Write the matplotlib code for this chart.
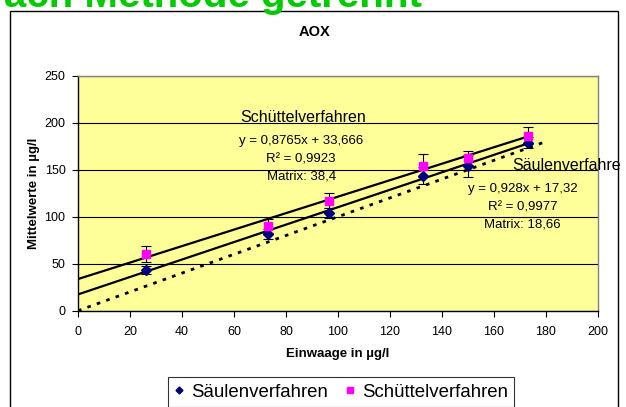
import matplotlib.pyplot as plt
from matplotlib.patches import Rectangle
from matplotlib.transforms import Bbox, TransformedBbox
import numpy as np

plt.rcParams["font.family"] = ["Liberation Sans", "DejaVu Sans"]

# Einwaage (µg/l) und Mittelwerte je Verfahren
einwaage = [26.2, 73.2, 96.5, 132.8, 150.1, 172.9]
saeulen = [43.3, 81.6, 103.6, 143.6, 154.3, 178.7]
saeulen_err = [4.3, 5.6, 5.5, 9.0, 11.7, 6.0]
schuettel = [60.5, 90.1, 117.0, 154.3, 162.8, 186.2]
schuettel_err = [8.5, 7.0, 8.0, 12.5, 7.5, 9.0]

# lineare Regressionen (Steigung, Achsenabschnitt)
fit_saeulen = (0.928, 17.32)
fit_schuettel = (0.8765, 33.666)
# Wiederfindung 100 %
ideal_x = [0, 180]
ideal_y = [0, 180]

W, H = 626, 407
fig = plt.figure(figsize=(W / 100, H / 100), dpi=100)


def fx(px):
    return px / W


def fy(py):
    return 1 - py / H


# Rahmen des Diagramms
fig.patches.append(Rectangle((fx(10), fy(440)), fx(618) - fx(10), fy(11) - fy(440),
                             transform=fig.transFigure, fill=False,
                             edgecolor="black", linewidth=1.0))

# angeschnittene Überschrift
fig.text(fx(4), fy(7), "ach Methode getrennt", color="#00cc00", fontsize=29,
         fontweight="bold", ha="left", va="baseline")

ax = fig.add_axes([fx(78), fy(310.7), fx(598) - fx(78), fy(75.7) - fy(310.7)])
ax.set_facecolor("#ffff99")
ax.set_xlim(0, 200)
ax.set_ylim(0, 250)
ax.set_xticks(np.arange(0, 201, 20))
ax.set_yticks(np.arange(0, 251, 50))
ax.tick_params(direction="out", length=4, width=0.8, labelsize=9, pad=5)
ax.tick_params(axis="x", pad=7)
for s in ["top", "right"]:
    ax.spines[s].set_color("#808080")
    ax.spines[s].set_linewidth(1.0)
for s in ["left", "bottom"]:
    ax.spines[s].set_color("black")
    ax.spines[s].set_linewidth(1.0)
ax.yaxis.grid(True, color="black", linewidth=0.8)
ax.set_axisbelow(True)

xs = np.array([0, max(einwaage)])
ax.plot(xs, fit_schuettel[0] * xs + fit_schuettel[1], color="black", lw=1.6, zorder=2)
ax.plot(xs, fit_saeulen[0] * xs + fit_saeulen[1], color="black", lw=1.6, zorder=2)
ax.plot(ideal_x, ideal_y, color="black", lw=2.0, linestyle=(0, (1.3, 2.3)), zorder=2)

ax.errorbar(einwaage, schuettel, yerr=schuettel_err, fmt="none", ecolor="black",
            elinewidth=0.8, capsize=3.5, capthick=0.8, zorder=3)
ax.errorbar(einwaage, saeulen, yerr=saeulen_err, fmt="none", ecolor="black",
            elinewidth=0.8, capsize=3.5, capthick=0.8, zorder=3)
ax.plot(einwaage, saeulen, "D", color="#000080", ms=5, ls="none",
        label="Säulenverfahren", zorder=4)
ax.plot(einwaage, schuettel, "s", color="#ff00ff", ms=5.5, ls="none",
        label="Schüttelverfahren", zorder=4)

ax.set_xlabel("Einwaage in µg/l", fontsize=9.5, fontweight="bold", labelpad=7)
ax.set_ylabel("Mittelwerte in µg/l", fontsize=9.5, fontweight="bold", labelpad=3)
fig.text(fx(315), fy(32.5), "AOX", fontsize=10.5, fontweight="bold",
         ha="center", va="center")

# Beschriftung der Regressionen
ax.text(62.6, 206, "Schüttelverfahren", fontsize=11.5, ha="left", va="center")
ax.text(85.8, 180.5, "y = 0,8765x + 33,666", fontsize=9.5, ha="center", va="center")
ax.text(85.8, 161, "R² = 0,9923", fontsize=9.5, ha="center", va="center")
ax.text(85.8, 142.9, "Matrix: 38,4", fontsize=9.5, ha="center", va="center")

t = ax.text(167.2, 155, "Säulenverfahren", fontsize=11.5, ha="left", va="center")
t.set_clip_on(True)
t.set_clip_box(TransformedBbox(Bbox.from_extents(0, 0, fx(621), 1), fig.transFigure))
ax.text(171, 129.1, "y = 0,928x + 17,32", fontsize=9.5, ha="center", va="center")
ax.text(171, 109.6, "R² = 0,9977", fontsize=9.5, ha="center", va="center")
ax.text(171, 91.2, "Matrix: 18,66", fontsize=9.5, ha="center", va="center")

leg = fig.legend(loc="upper left", bbox_to_anchor=(fx(168), fy(377)), ncol=2,
                 fontsize=13.4, frameon=True, fancybox=False, edgecolor="black",
                 handlelength=0.5, handletextpad=0.4, columnspacing=0.9,
                 borderpad=0.35, markerscale=0.7, borderaxespad=0)
leg.get_frame().set_linewidth(0.8)

fig.savefig("out.png", dpi=100)
